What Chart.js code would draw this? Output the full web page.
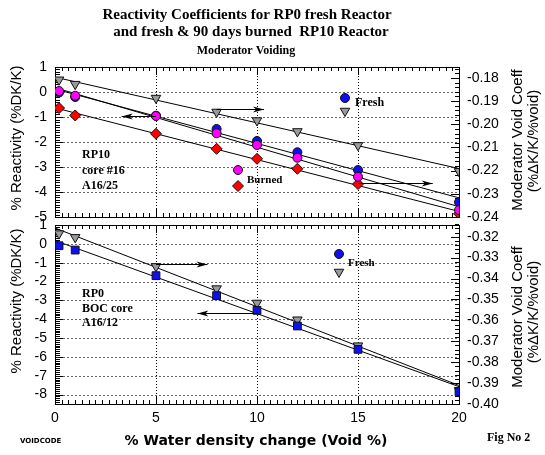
<!DOCTYPE html>
<html>
<head>
<meta charset="utf-8">
<script src="https://cdn.jsdelivr.net/npm/chart.js@4.4.1/dist/chart.umd.min.js"></script>
<style>
  html, body { margin: 0; padding: 0; background: #fff; }
  #wrap { position: relative; width: 545px; height: 455px; }
  canvas { position: absolute; left: 0; top: 0; }
</style>
</head>
<body>
<div id="wrap">
  <canvas id="topChart" width="545" height="455"></canvas>
  <canvas id="botChart" width="545" height="455"></canvas>
</div>
<script>
// % void (water density change)
const voidPct = [0.2, 1, 5, 8, 10, 12, 15, 20];

// RP10 reactor (top panel)
const rp10FreshReact  = [-0.02, -0.20, -0.95, -1.48, -1.96, -2.41, -3.12, -4.41];
const rp10BurnedReact = [0.04, -0.15, -0.96, -1.65, -2.12, -2.63, -3.39, -4.72];
const rp10FreshCoeff  = [-0.1808, -0.1827, -0.1887, -0.1947, -0.1984, -0.2031, -0.2091, -0.2203];
const rp10BurnedCoeff = [-0.1930, -0.1962, -0.2041, -0.2106, -0.2149, -0.2192, -0.2258, -0.2386];

// RP0 reactor (bottom panel)
const rp0FreshReact = [-0.10, -0.33, -1.69, -2.75, -3.53, -4.36, -5.60, -7.85];
const rp0FreshCoeff = [-0.3185, -0.3203, -0.3342, -0.3448, -0.3517, -0.3597, -0.3721, -0.3935];

// tick labels
const xTicks = [0, 5, 10, 15, 20];
const topReactTicks = [1, 0, -1, -2, -3, -4, -5];
const topCoeffTicks = [-0.18, -0.19, -0.20, -0.21, -0.22, -0.23, -0.24];
const botReactTicks = [1, 0, -1, -2, -3, -4, -5, -6, -7, -8];
const botCoeffTicks = [-0.32, -0.33, -0.34, -0.35, -0.36, -0.37, -0.38, -0.39, -0.40];

// arrows showing which axis a curve belongs to (data units)
const topArrows = [
  { axis: "yL", y: -0.96, from: 5, to: 3.3 },
  { axis: "yR", y: -0.1935, from: 8, to: 10.35 },
  { axis: "yR", y: -0.2253, from: 15, to: 18.7 }
];
const botArrows = [
  { axis: "yR", y: -0.3330, from: 5, to: 7.55 },
  { axis: "yL", y: -3.69, from: 10, to: 7.05 }
];

const W = 545, H = 455;
const PLOT_LEFT = 55, PLOT_RIGHT = 459;
const SERIF = "'Liberation Serif', 'Times New Roman', serif";
const SANS = "'Liberation Sans', Arial, sans-serif";

function pts(ys) {
  return voidPct.map((x, i) => ({ x: x, y: ys[i] }));
}

// least squares line through a series, drawn over the whole x range
function fitLine(xs, ys) {
  const n = xs.length;
  const mx = xs.reduce((a, b) => a + b, 0) / n;
  const my = ys.reduce((a, b) => a + b, 0) / n;
  let sxy = 0, sxx = 0;
  xs.forEach((x, i) => {
    sxy += (x - mx) * (ys[i] - my);
    sxx += (x - mx) * (x - mx);
  });
  const m = sxy / sxx;
  const b = my - m * mx;
  return [{ x: 0, y: b }, { x: 20, y: b + m * 20 }];
}

function markerSet(label, ys, axis, style, fill, radius, order, extra) {
  return Object.assign({
    label: label,
    data: pts(ys),
    yAxisID: axis,
    showLine: false,
    pointStyle: style,
    pointRadius: radius,
    pointHoverRadius: radius,
    pointBackgroundColor: fill,
    pointBorderColor: "#111",
    pointBorderWidth: 1,
    order: order
  }, extra || {});
}

function trendSet(ys, axis) {
  return {
    data: fitLine(voidPct, ys),
    yAxisID: axis,
    showLine: true,
    borderColor: "#000",
    borderWidth: 1,
    pointRadius: 0,
    pointHoverRadius: 0,
    order: 10
  };
}

function yScale(pos, min, max, tickVals, fmt) {
  return {
    type: "linear",
    position: pos,
    min: min,
    max: max,
    afterBuildTicks: s => { s.ticks = tickVals.map(v => ({ value: v })); },
    afterFit: s => { s.width = pos === "left" ? PLOT_LEFT : W - PLOT_RIGHT; },
    ticks: {
      padding: 8,
      color: "#000",
      font: { family: SANS, size: 14 },
      callback: fmt
    },
    grid: { display: false, drawTicks: false },
    border: { display: false }
  };
}

function xScale(showLabels, bottomEdge) {
  return {
    type: "linear",
    min: 0,
    max: 20,
    afterBuildTicks: s => { s.ticks = xTicks.map(v => ({ value: v })); },
    afterFit: s => { s.height = H - bottomEdge; },
    ticks: {
      display: showLabels,
      padding: 6,
      color: "#000",
      font: { family: SANS, size: 14 },
      maxRotation: 0
    },
    grid: { display: false, drawTicks: false },
    border: { display: false }
  };
}

function line(ctx, x1, y1, x2, y2) {
  ctx.beginPath();
  ctx.moveTo(x1, y1);
  ctx.lineTo(x2, y2);
  ctx.stroke();
}

function drawMarker(ctx, style, x, y, r, fill) {
  ctx.save();
  ctx.fillStyle = fill;
  ctx.strokeStyle = "#111";
  ctx.lineWidth = 1;
  ctx.beginPath();
  if (style === "circle") {
    ctx.arc(x, y, r, 0, Math.PI * 2);
  } else if (style === "triangleDown") {
    ctx.moveTo(x - r * 0.866, y - r * 0.5);
    ctx.lineTo(x + r * 0.866, y - r * 0.5);
    ctx.lineTo(x, y + r);
    ctx.closePath();
  } else if (style === "diamond") {
    ctx.moveTo(x, y - r);
    ctx.lineTo(x + r, y);
    ctx.lineTo(x, y + r);
    ctx.lineTo(x - r, y);
    ctx.closePath();
  }
  ctx.fill();
  ctx.stroke();
  ctx.restore();
}

function text(ctx, str, x, y, font, align, rot) {
  ctx.save();
  ctx.font = font;
  ctx.fillStyle = "#000";
  ctx.textAlign = align || "left";
  ctx.textBaseline = "middle";
  ctx.translate(x, y);
  if (rot) ctx.rotate(rot);
  ctx.fillText(str, 0, 0);
  ctx.restore();
}

// grid, frame and the small tick marks of one panel
function panelBackground(chart, reactTicks, reactStep, coeffStep) {
  const { ctx, chartArea: a, scales } = chart;
  const yL = scales.yL, yR = scales.yR, x = scales.x;
  ctx.save();
  ctx.lineWidth = 1;

  // dotted grid
  ctx.setLineDash([2, 2]);
  ctx.strokeStyle = "#666";
  reactTicks.forEach(v => {
    const py = Math.round(yL.getPixelForValue(v)) + 0.5;
    if (py > a.top + 2 && py < a.bottom - 2) line(ctx, a.left, py, a.right, py);
  });
  ctx.setLineDash([1, 2]);
  ctx.strokeStyle = "#000";
  xTicks.forEach(v => {
    const px = Math.round(x.getPixelForValue(v)) + 0.5;
    if (px > a.left + 2 && px < a.right - 2) line(ctx, px, a.top, px, a.bottom);
  });
  ctx.setLineDash([]);

  // minor ticks on the left axis
  ctx.strokeStyle = "#000";
  const nL = Math.round((yL.max - yL.min) / reactStep);
  for (let i = 0; i <= nL; i++) {
    const v = yL.min + i * reactStep;
    const py = Math.round(yL.getPixelForValue(v)) + 0.5;
    const major = Math.abs(v - Math.round(v)) < 1e-6;
    line(ctx, a.left, py, a.left + (major ? 8 : 5), py);
  }
  // minor ticks on the right axis
  const nR = Math.round((yR.max - yR.min) / coeffStep);
  for (let i = 0; i <= nR; i++) {
    const v = yR.min + i * coeffStep;
    const py = Math.round(yR.getPixelForValue(v)) + 0.5;
    const major = Math.abs(v * 100 - Math.round(v * 100)) < 1e-6;
    line(ctx, a.right, py, a.right - (major ? 8 : 4), py);
  }
  // minor ticks on top and bottom edges
  for (let i = 0; i <= 60; i++) {
    const v = i / 3;
    const px = Math.round(x.getPixelForValue(v)) + 0.5;
    const major = i % 15 === 0;
    line(ctx, px, a.top, px, a.top + (major ? 8 : 4));
    line(ctx, px, a.bottom, px, a.bottom - (major ? 8 : 4));
  }

  // frame
  ctx.strokeRect(Math.round(a.left) + 0.5, Math.round(a.top) + 0.5,
    Math.round(a.right - a.left), Math.round(a.bottom - a.top));
  ctx.restore();
}

function drawArrows(chart, arrows) {
  const { ctx, scales } = chart;
  ctx.save();
  ctx.strokeStyle = "#000";
  ctx.fillStyle = "#000";
  ctx.lineWidth = 1;
  arrows.forEach(ar => {
    const py = Math.round(scales[ar.axis].getPixelForValue(ar.y)) + 0.5;
    const x1 = scales.x.getPixelForValue(ar.from);
    const x2 = scales.x.getPixelForValue(ar.to);
    const dir = x2 > x1 ? 1 : -1;
    line(ctx, x1, py, x2, py);
    ctx.beginPath();
    ctx.moveTo(x2, py);
    ctx.lineTo(x2 - dir * 11, py - 3);
    ctx.lineTo(x2 - dir * 8, py);
    ctx.lineTo(x2 - dir * 11, py + 3);
    ctx.closePath();
    ctx.fill();
  });
  ctx.restore();
}

const topDecor = {
  id: "topDecor",
  beforeDatasetsDraw(chart) {
    panelBackground(chart, topReactTicks, 0.1, 0.002);
  },
  afterDatasetsDraw(chart) {
    const ctx = chart.ctx;
    drawArrows(chart, topArrows);

    text(ctx, "Reactivity Coefficients for RP0 fresh Reactor", 247, 15, "bold 15px " + SERIF, "center");
    text(ctx, "and fresh & 90 days burned  RP10 Reactor", 251, 32, "bold 15px " + SERIF, "center");
    text(ctx, "Moderator Voiding", 246, 51, "bold 12px " + SERIF, "center");

    text(ctx, "% Reactivity (%DK/K)", 17, 138, "15px " + SANS, "center", -Math.PI / 2);
    text(ctx, "Moderator Void Coeff", 518, 140, "15px " + SANS, "center", -Math.PI / 2);
    text(ctx, "(%\u0394K/K/%void)", 534, 141, "15px " + SANS, "center", -Math.PI / 2);

    text(ctx, "RP10", 82, 155, "bold 12px " + SERIF);
    text(ctx, "core #16", 82, 171, "bold 12px " + SERIF);
    text(ctx, "A16/25", 82, 186, "bold 12px " + SERIF);

    drawMarker(ctx, "circle", 345, 98, 4.5, "#1010ee");
    drawMarker(ctx, "triangleDown", 345, 111, 5.5, "#9a9a9a");
    text(ctx, "Fresh", 355, 103, "bold 12px " + SERIF);
    drawMarker(ctx, "circle", 238, 170, 4.5, "#ff00ff");
    drawMarker(ctx, "diamond", 238, 186, 5.5, "#ff0000");
    text(ctx, "Burned", 247, 180, "bold 11px " + SERIF);
  }
};

const botDecor = {
  id: "botDecor",
  beforeDatasetsDraw(chart) {
    panelBackground(chart, botReactTicks, 0.1, 0.002);
  },
  afterDatasetsDraw(chart) {
    const ctx = chart.ctx;
    drawArrows(chart, botArrows);

    text(ctx, "% Reactivity (%DK/K)", 17, 301, "15px " + SANS, "center", -Math.PI / 2);
    text(ctx, "Moderator Void Coeff", 518, 317, "15px " + SANS, "center", -Math.PI / 2);
    text(ctx, "(%\u0394K/K/%void)", 534, 312, "15px " + SANS, "center", -Math.PI / 2);

    text(ctx, "RP0", 82, 294, "bold 12px " + SERIF);
    text(ctx, "BOC core", 82, 309, "bold 12px " + SERIF);
    text(ctx, "A16/12", 82, 323, "bold 12px " + SERIF);

    drawMarker(ctx, "circle", 339, 254, 4.5, "#1010ee");
    drawMarker(ctx, "triangleDown", 339, 272, 5.5, "#9a9a9a");
    text(ctx, "Fresh", 348, 263, "bold 11px " + SERIF);

    text(ctx, "% Water density change (Void %)", 256, 441, "bold 14px 'DejaVu Sans', Verdana, sans-serif", "center");
    text(ctx, "VOIDCODE", 20, 441, "bold 7px 'DejaVu Sans', sans-serif");
    text(ctx, "Fig No 2", 487, 438, "bold 12px " + SERIF);
  }
};

const fmtInt = v => String(v);
const fmtCoeff = v => v.toFixed(2);

new Chart(document.getElementById("topChart"), {
  type: "scatter",
  data: {
    datasets: [
      markerSet("RP10 burned reactivity", rp10BurnedReact, "yL", "circle", "#ff00ff", 4.5, 0),
      markerSet("RP10 fresh reactivity", rp10FreshReact, "yL", "circle", "#1010ee", 4.5, 1),
      markerSet("RP10 fresh void coeff", rp10FreshCoeff, "yR", "triangle", "#9a9a9a", 5.5, 2, { rotation: 180 }),
      markerSet("RP10 burned void coeff", rp10BurnedCoeff, "yR", "rectRot", "#ff0000", 5.5, 3),
      trendSet(rp10FreshReact, "yL"),
      trendSet(rp10BurnedReact, "yL"),
      trendSet(rp10FreshCoeff, "yR"),
      trendSet(rp10BurnedCoeff, "yR")
    ]
  },
  options: {
    responsive: false,
    animation: false,
    layout: { padding: { top: 67, left: 0, right: 0, bottom: 0 } },
    plugins: { legend: { display: false }, tooltip: { enabled: false }, title: { display: false } },
    scales: {
      x: xScale(false, 217),
      yL: yScale("left", -5, 1, topReactTicks, fmtInt),
      yR: yScale("right", -0.24, -0.1753, topCoeffTicks, fmtCoeff)
    }
  },
  plugins: [topDecor]
});

new Chart(document.getElementById("botChart"), {
  type: "scatter",
  data: {
    datasets: [
      markerSet("RP0 fresh reactivity", rp0FreshReact, "yL", "rect", "#1010ee", 5.5, 1),
      markerSet("RP0 fresh void coeff", rp0FreshCoeff, "yR", "triangle", "#9a9a9a", 5.5, 2, { rotation: 180 }),
      trendSet(rp0FreshReact, "yL"),
      trendSet(rp0FreshCoeff, "yR")
    ]
  },
  options: {
    responsive: false,
    animation: false,
    layout: { padding: { top: 225, left: 0, right: 0, bottom: 0 } },
    plugins: { legend: { display: false }, tooltip: { enabled: false }, title: { display: false } },
    scales: {
      x: xScale(true, 404),
      yL: yScale("left", -8.5, 1, botReactTicks, fmtInt),
      yR: yScale("right", -0.40, -0.3144, botCoeffTicks, fmtCoeff)
    }
  },
  plugins: [botDecor]
});
</script>
</body>
</html>
